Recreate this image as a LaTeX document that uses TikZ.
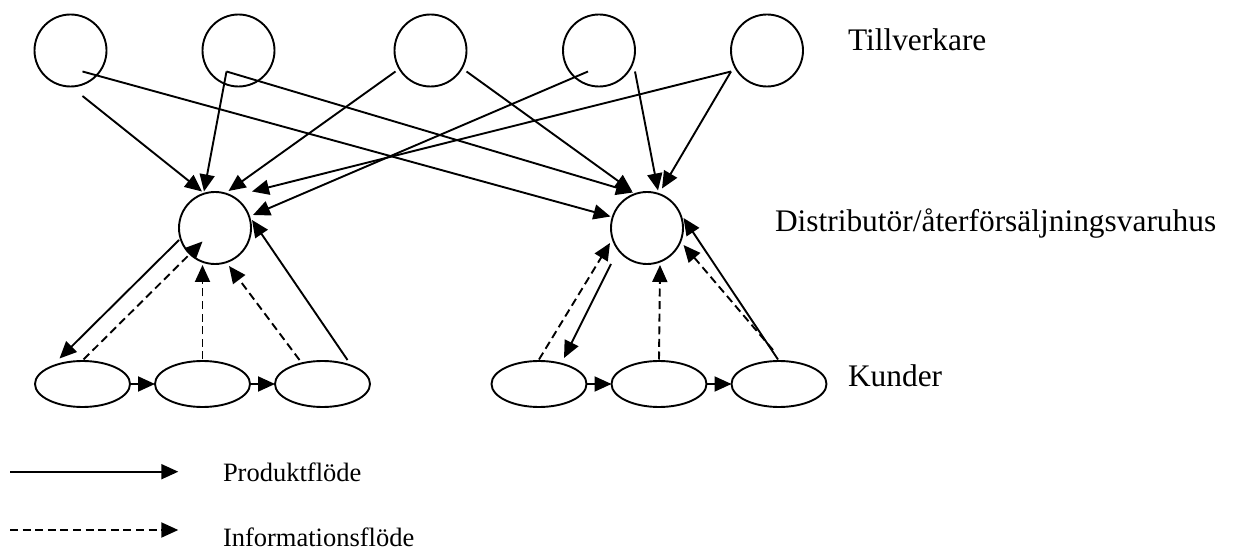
\documentclass[tikz,border=0pt]{standalone}
\usepackage{fontspec}
\setmainfont{Liberation Serif}
\usetikzlibrary{arrows.meta,calc,shapes.geometric}
\begin{document}
\begin{tikzpicture}[x=0.5pt,y=-0.5pt,
  every node/.style={inner sep=0pt,outer sep=0pt},
  actor/.style={circle,draw,line width=0.95pt,minimum size=36pt},
  customer/.style={ellipse,draw,line width=0.95pt,minimum width=47.5pt,minimum height=23pt},
  flow/.style={line width=0.95pt,-{Triangle[length=8.5pt,width=7.5pt]}},
  info/.style={flow,dash pattern=on 4pt off 2.3pt},
  tier/.style={anchor=base west,font=\fontsize{15.7pt}{18pt}\selectfont},
  legend/.style={anchor=base west,font=\fontsize{13.25pt}{16pt}\selectfont}]
\useasboundingbox (0,0) rectangle (1234,549);

% manufacturers
\node[actor] (m1) at (70.5,50.5) {};
\node[actor] (m2) at (238.5,50.5) {};
\node[actor] (m3) at (430.5,50.5) {};
\node[actor] (m4) at (599,50.5) {};
\node[actor] (m5) at (767,50.5) {};

% distributors / retail warehouses
\node[actor] (d1) at (215,228) {};
\node[actor] (d2) at (647,228) {};

% customers
\node[customer] (c1) at (82.5,384) {};
\node[customer] (c2) at (202.5,384) {};
\node[customer] (c3) at (322.5,384) {};
\node[customer] (c4) at (539,384) {};
\node[customer] (c5) at (659,384) {};
\node[customer] (c6) at (779,384) {};

% tier labels
\node[tier] (tTill) at (848,50.7) {Tillverkare};
\node[tier] (tDist) at (775,232) {Distributör/återförsäljningsvaruhus};
\node[tier] (tKund) at (848,386.7) {Kunder};

% product flow: manufacturers -> distributors
\draw[flow] ($(m1)+(12,45.5)$) -- ($(d1)+(-13,-36.5)$);
\draw[flow] ($(m1)+(12,21)$) -- ($(d2)+(-36.5,-11.5)$);
\draw[flow] ($(m2)+(-12,21)$) -- ($(d1)+(-11,-36.5)$);
\draw[flow] ($(m2)+(-12,21)$) -- ($(d2)+(-14,-35.5)$);
\draw[flow] ($(m3)+(-35,21)$) -- ($(d1)+(13.5,-37)$);
\draw[flow] ($(m3)+(36,21)$) -- ($(d2)+(-15,-37)$);
\draw[flow] ($(m4)+(-11,21)$) -- ($(d1)+(38,-13)$);
\draw[flow] ($(m4)+(36,21)$) -- ($(d2)+(11,-37.5)$);
\draw[flow] ($(m5)+(-36,21)$) -- ($(d1)+(37,-36.5)$);
\draw[flow] ($(m5)+(-36,21)$) -- ($(d2)+(15,-39.5)$);

% left distributor and its customers
\draw[flow] ($(d1)+(-36,12)$) -- ($(c1)+(-23,-25.5)$);
\draw[info] ($(c1)+(1,-24.5)$) -- ($(d1)+(-12.5,13.5)$);
\draw[info] ($(c2)+(0,-24.5)$) -- ($(d1)+(-12.5,37)$);
\draw[info] ($(c3)+(-23,-24)$) -- ($(d1)+(14,38)$);
\draw[flow] ($(c3)+(25,-24)$) -- ($(d1)+(37,-8)$);
\draw[flow] (c1.east) -- (c2.west);
\draw[flow] (c2.east) -- (c3.west);

% right distributor and its customers
\draw[info] ($(c4)+(0,-24.5)$) -- ($(d2)+(-37,15)$);
\draw[flow] ($(d2)+(-36,36)$) -- ($(c4)+(25,-26)$);
\draw[info] ($(c5)+(0,-24.5)$) -- ($(d2)+(13,37)$);
\draw[info] ($(c6)+(-6,-34)$) -- ($(d2)+(36.5,17)$);
\draw[flow] ($(c6)+(-1,-24.5)$) -- ($(d2)+(36.5,-10)$);
\draw[flow] (c4.east) -- (c5.west);
\draw[flow] (c5.east) -- (c6.west);

% legend
\coordinate (lpA) at (10,471.7);
\coordinate (lpB) at (178.3,471.7);
\coordinate (liA) at (10,530);
\coordinate (liB) at (178.3,530);
\draw[flow] (lpA) -- (lpB);
\draw[info] (liA) -- (liB);
\node[legend] (lProd) at (223,481.7) {Produktflöde};
\node[legend] (lInfo) at (223,546) {Informationsflöde};
\end{tikzpicture}
\end{document}
